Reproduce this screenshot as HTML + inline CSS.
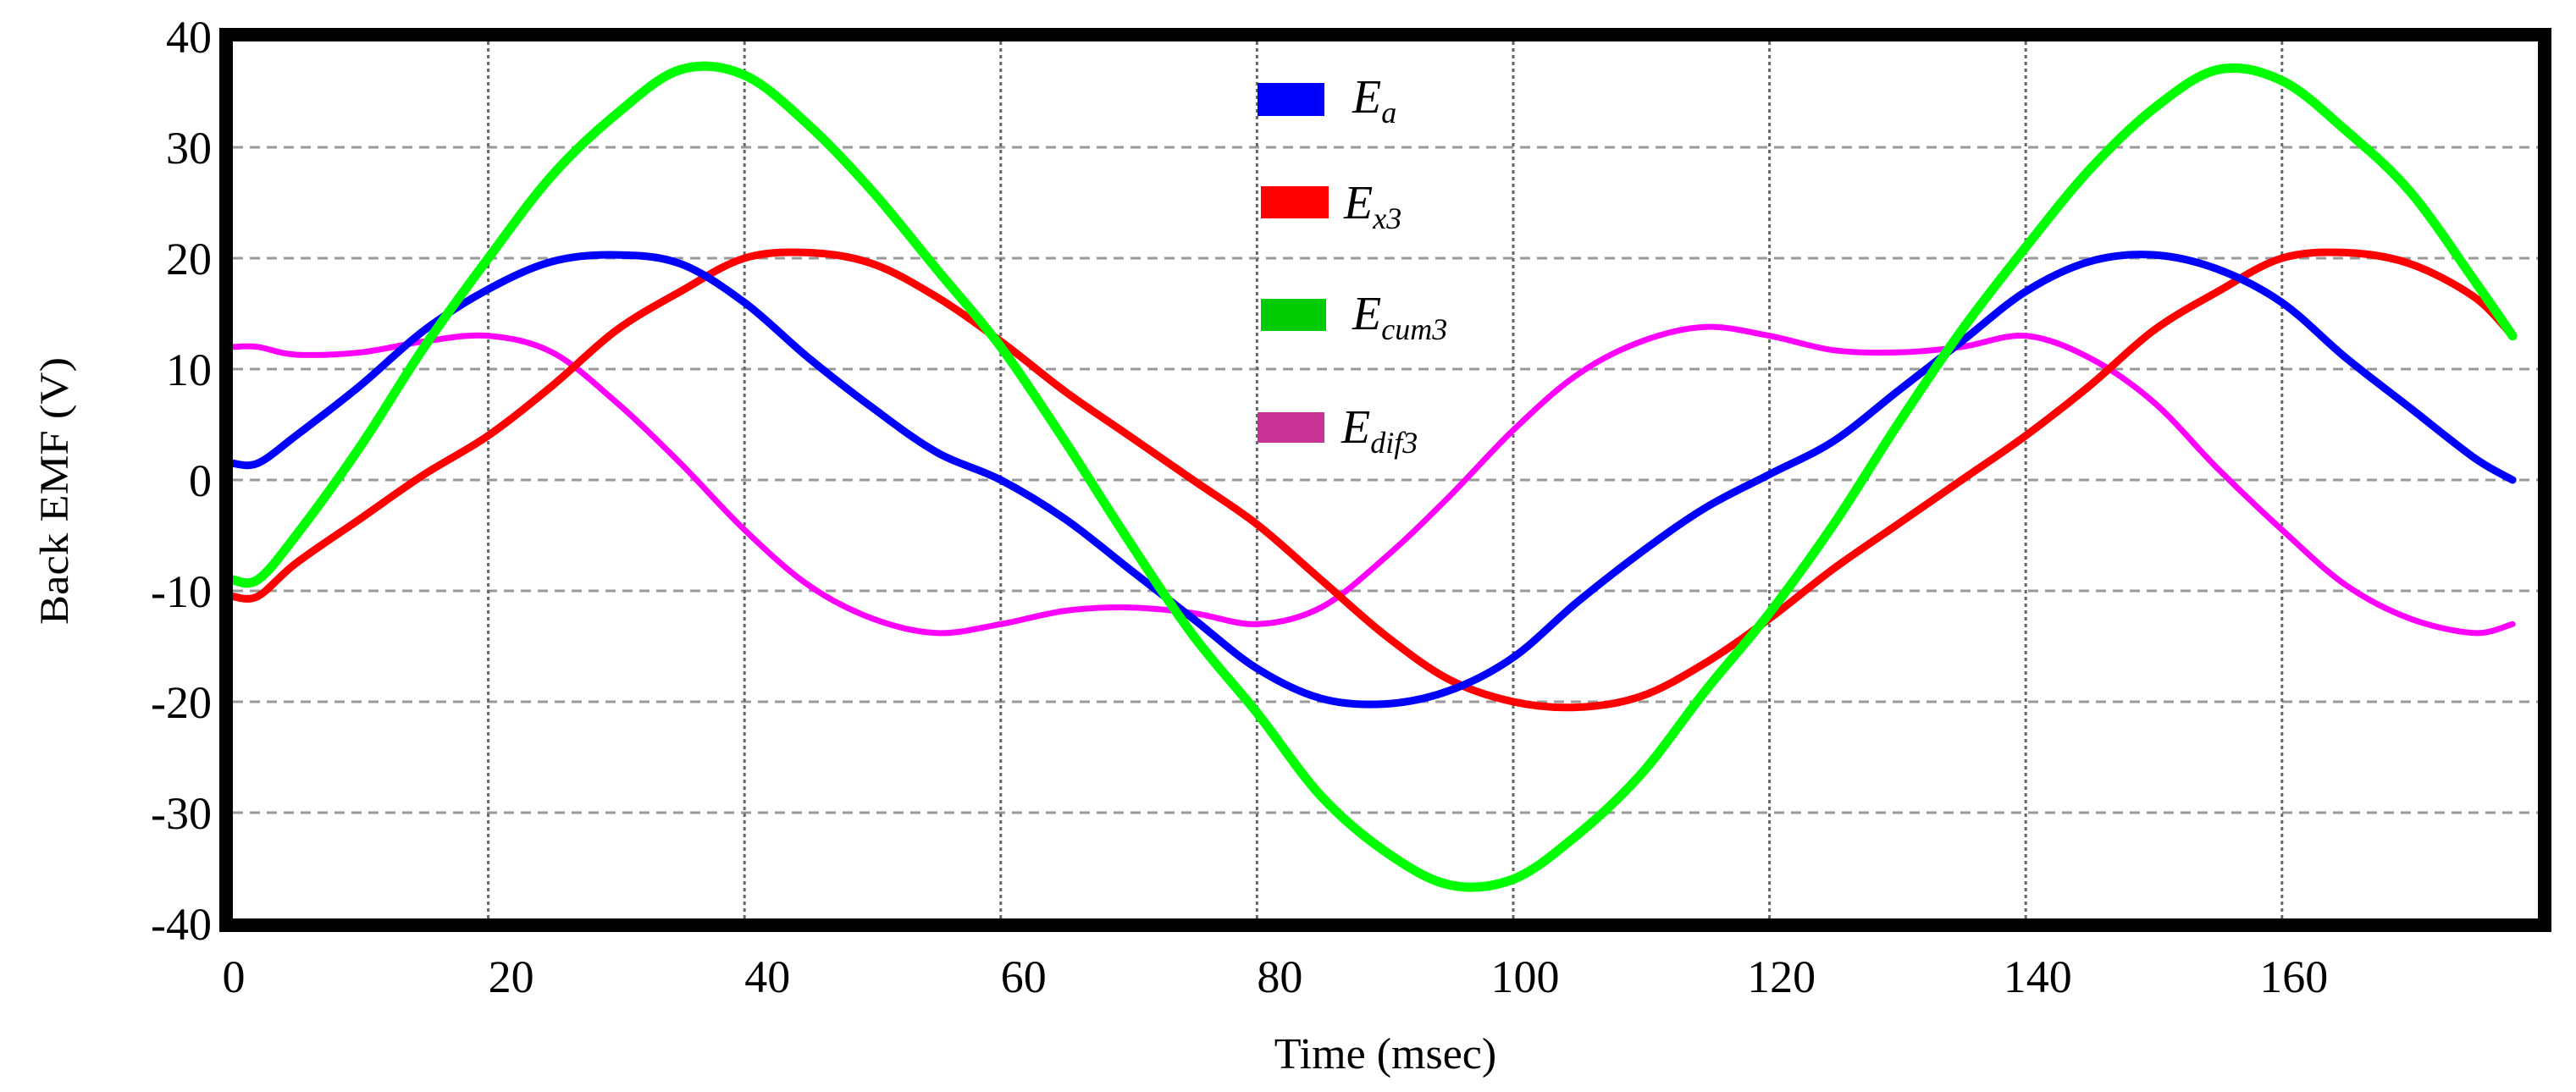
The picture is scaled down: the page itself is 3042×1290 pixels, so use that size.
<!DOCTYPE html>
<html><head><meta charset="utf-8"><style>
html,body{margin:0;padding:0;background:#fff;width:3042px;height:1290px;overflow:hidden}
svg{display:block}
text{font-family:"Liberation Serif",serif;fill:#000}
</style></head><body>
<svg id="chart" width="3042" height="1290" viewBox="0 0 3042 1290" xmlns="http://www.w3.org/2000/svg">
<rect width="3042" height="1290" fill="#fff"/>
<g id="grid"></g>
<g id="series"></g>
<rect x="267" y="41" width="2738" height="1052" fill="none" stroke="#000" stroke-width="16"/>
<g id="ticks"></g>
<text x="1636" y="1262" font-size="52" text-anchor="middle">Time (msec)</text>
<text transform="translate(80,580) rotate(-90)" font-size="48" text-anchor="middle" textLength="316" lengthAdjust="spacingAndGlyphs">Back EMF (V)</text>
<g>
 <g>
  <rect x="1485" y="98" width="79" height="39" fill="#0000ff"/>
  <text x="1597" y="133" font-size="56" font-style="italic">E<tspan font-size="36" dy="12">a</tspan></text>
 </g>
 <g>
  <rect x="1489" y="220" width="80" height="38" fill="#ff0000"/>
  <text x="1587" y="258" font-size="56" font-style="italic">E<tspan font-size="36" dy="12">x3</tspan></text>
 </g>
 <g>
  <rect x="1489" y="353" width="77" height="38" fill="#00cc00"/>
  <text x="1597" y="389" font-size="56" font-style="italic">E<tspan font-size="36" dy="12">cum3</tspan></text>
 </g>
 <g>
  <rect x="1485" y="487" width="79" height="36" fill="#c83296"/>
  <text x="1584" y="523" font-size="56" font-style="italic">E<tspan font-size="36" dy="12">dif3</tspan></text>
 </g>
</g>
</svg>
<script>
const times=[0,2,5,10,15,20,25,30,35,40,45,50,55,60,65,70,75,80,85,90,95,100,105,110,115,120,125,130,135,140,145,150,155,160,165,170,175,178];
const ea=[1.5,1.5,4,8.5,13.5,17.2,19.7,20.3,19.5,16,11,6.5,2.5,0,-3.5,-8,-12.5,-17,-19.7,-20.2,-19,-16,-11,-6.5,-2.5,0.5,3.5,8,12.5,17,19.7,20.3,19,16,11,6.5,2,0];
const ex3=[-10.5,-10.5,-7.5,-3.5,0.5,4,8.5,13.5,17,20,20.5,19.5,16.5,12.5,8,4,0,-4,-9,-14,-18,-20,-20.5,-19.5,-16.5,-12.5,-8,-4,0,4,8.5,13.5,17,20,20.5,19.5,16.5,13];
const ecum3=[-9,-9,-5,3,12,20,27.5,33,37,36.5,32,26,19,12,3.5,-5.5,-14,-21,-28.5,-33.5,-36.5,-36,-32,-26.5,-19,-12,-4,5,13.5,21,28,33.5,37,36,31.5,26,18,13];
const edif3=[12,12,11.3,11.5,12.5,13,11.5,7,1.5,-4.5,-9.5,-12.5,-13.8,-13,-11.8,-11.5,-12,-13,-11.5,-7,-1.5,4.5,9.5,12.5,13.8,13,11.7,11.5,12,13,11,7,1,-4.5,-9.5,-12.5,-13.8,-13];
const yTicks=[40,30,20,10,0,-10,-20,-30,-40];
const xTicks=[0,20,40,60,80,100,120,140,160];

const NS="http://www.w3.org/2000/svg";
function X(t){return 274+t*15.13;}
function Y(v){return 43+(40-v)*13.1;}
function mk(tag,attrs,parent){const e=document.createElementNS(NS,tag);for(const k in attrs)e.setAttribute(k,attrs[k]);parent.appendChild(e);return e;}
const grid=document.getElementById('grid'),ticks=document.getElementById('ticks'),series=document.getElementById('series');

yTicks.forEach(v=>{
  if(v<40&&v>-40){
    const l=mk('line',{x1:275,x2:2997,y1:Y(v),y2:Y(v),stroke:'#999','stroke-width':3,'stroke-dasharray':'12,8'},grid);
    
    
  }
  const t=mk('text',{x:250,y:Y(v)+19,'font-size':54,'text-anchor':'end'},ticks);
  t.textContent=v;
  
  
});
xTicks.forEach(v=>{
  if(v>0){
    const l=mk('line',{x1:X(v),x2:X(v),y1:49,y2:1086,stroke:'#666','stroke-width':3,'stroke-dasharray':'4,4'},grid);
    
    
  }
  const s=String(v);
  const off=s.length===1?2:(s.length===2?27:14);
  const t=mk('text',{x:X(v)+off,y:1172,'font-size':54,'text-anchor':'middle'},ticks);
  t.textContent=s;
  
  
});

function draw(vals,color,w,name){
  const P=times.map((t,i)=>[X(t),Y(vals[i])]);
  let d='M'+P[0][0].toFixed(1)+','+P[0][1].toFixed(1);
  for(let i=0;i<P.length-1;i++){
    const p0=P[Math.max(i-1,0)],p1=P[i],p2=P[i+1],p3=P[Math.min(i+2,P.length-1)];
    const c1=[p1[0]+(p2[0]-p0[0])/6,p1[1]+(p2[1]-p0[1])/6];
    const c2=[p2[0]-(p3[0]-p1[0])/6,p2[1]-(p3[1]-p1[1])/6];
    d+=' C'+c1[0].toFixed(1)+','+c1[1].toFixed(1)+' '+c2[0].toFixed(1)+','+c2[1].toFixed(1)+' '+p2[0].toFixed(1)+','+p2[1].toFixed(1);
  }
  const p=mk('path',{d:d,fill:'none',stroke:color,'stroke-width':w,'stroke-linejoin':'round','stroke-linecap':'round'},series);
  
  
}
draw(edif3,'#ff00ff',7,'series-edif3');
draw(ex3,'#ff0000',9,'series-ex3');
draw(ea,'#0000ff',9,'series-ea');
draw(ecum3,'#00ff00',11,'series-ecum3');
</script>
</body></html>
